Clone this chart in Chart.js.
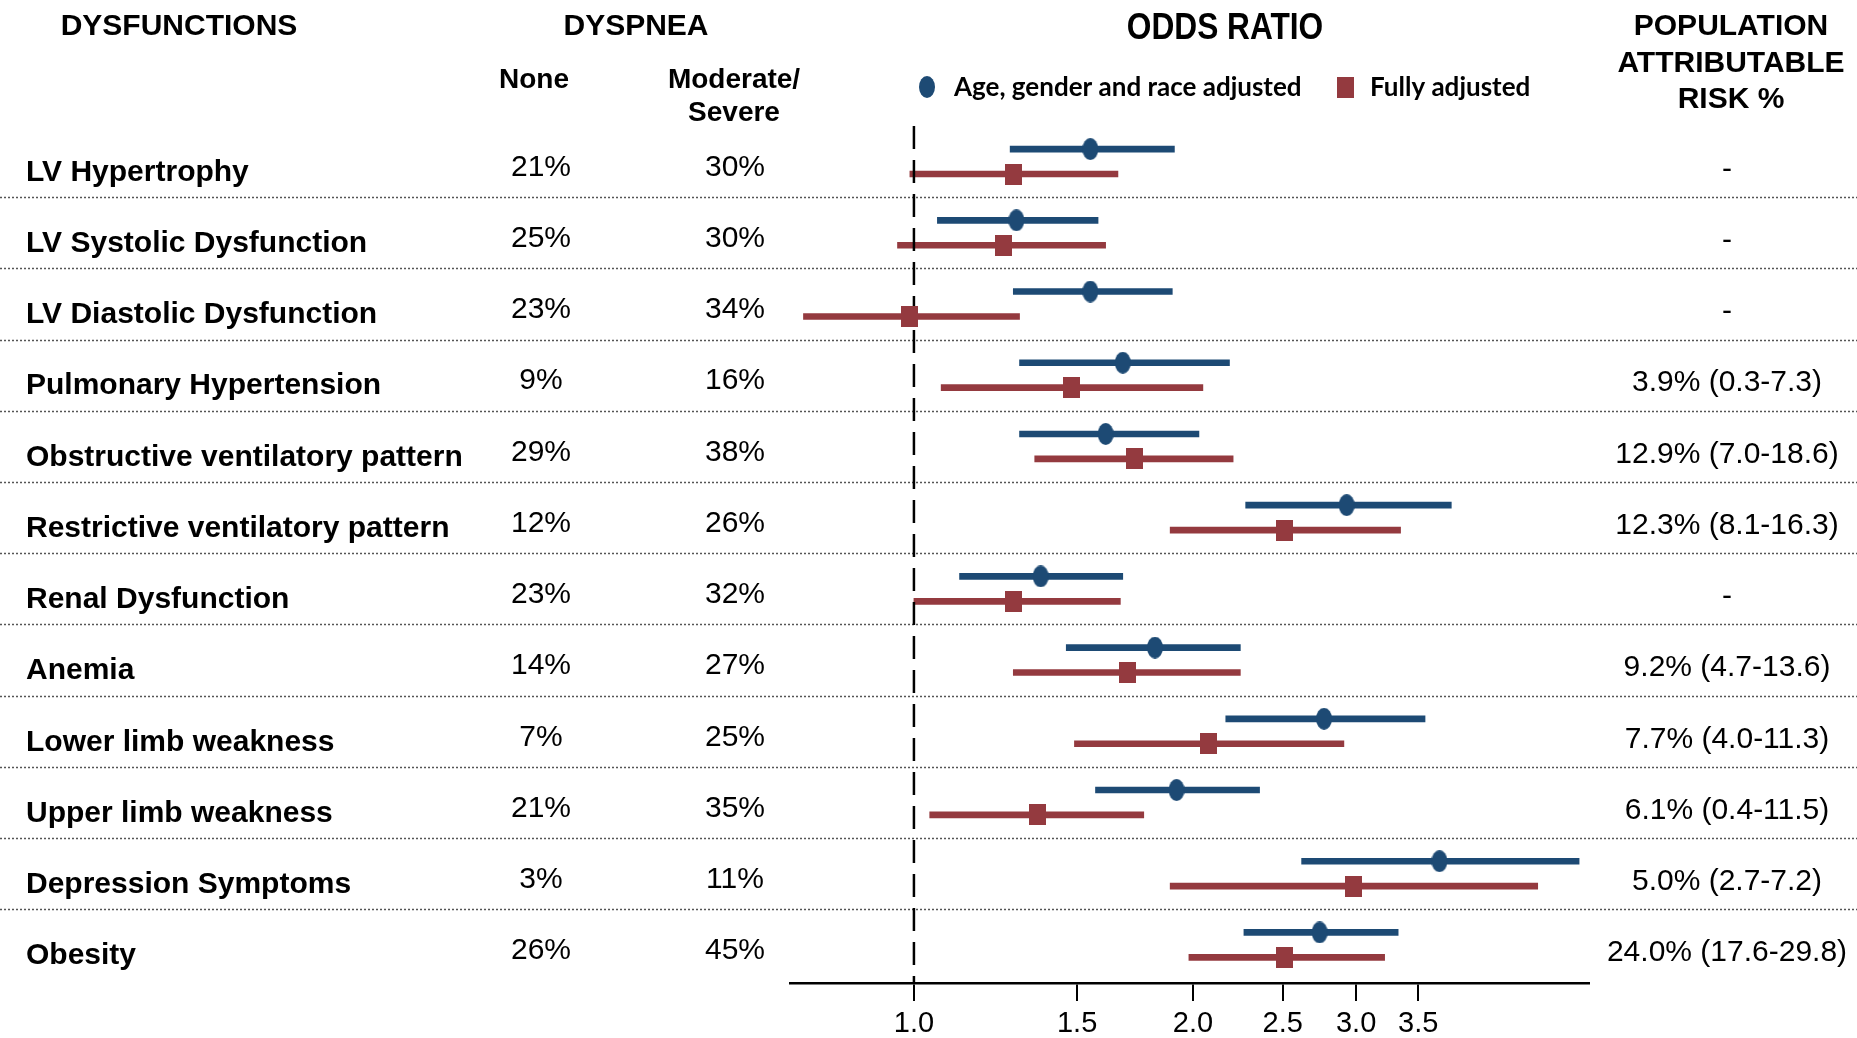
<!DOCTYPE html>
<html>
<head>
<meta charset="utf-8">
<script src="https://cdn.jsdelivr.net/npm/chart.js@4.4.1/dist/chart.umd.min.js"></script>
<style>
  html, body { margin: 0; padding: 0; background: #fff; }
  canvas { display: block; }
</style>
</head>
<body>
<canvas id="chart" width="1857" height="1038"></canvas>
<script>
// rows, top to bottom
const categories = [
  'LV Hypertrophy', 'LV Systolic Dysfunction', 'LV Diastolic Dysfunction',
  'Pulmonary Hypertension', 'Obstructive ventilatory pattern', 'Restrictive ventilatory pattern',
  'Renal Dysfunction', 'Anemia', 'Lower limb weakness', 'Upper limb weakness',
  'Depression Symptoms', 'Obesity'
]
const dyspneaNone = ['21%', '25%', '23%', '9%', '29%', '12%', '23%', '14%', '7%', '21%', '3%', '26%']
const dyspneaModSevere = ['30%', '30%', '34%', '16%', '38%', '26%', '32%', '27%', '25%', '35%', '11%', '45%']
const parText = ['-', '-', '-', '3.9% (0.3-7.3)', '12.9% (7.0-18.6)', '12.3% (8.1-16.3)', '-',
  '9.2% (4.7-13.6)', '7.7% (4.0-11.3)', '6.1% (0.4-11.5)', '5.0% (2.7-7.2)', '24.0% (17.6-29.8)']

// age, gender and race adjusted odds ratios
const ageOR   = [1.55, 1.29, 1.55, 1.68, 1.61, 2.93, 1.37, 1.82, 2.77, 1.92, 3.69, 2.74]
const ageLow  = [1.27, 1.06, 1.28, 1.30, 1.30, 2.28, 1.12, 1.46, 2.17, 1.57, 2.62, 2.27]
const ageHigh = [1.91, 1.58, 1.90, 2.19, 2.03, 3.80, 1.68, 2.25, 3.56, 2.36, 5.22, 3.33]

// fully adjusted odds ratios
const fullOR   = [1.28, 1.25, 0.99, 1.48, 1.73, 2.51, 1.28, 1.70, 2.08, 1.36, 2.98, 2.51]
const fullLow  = [0.99, 0.96, 0.76, 1.07, 1.35, 1.89, 1.00, 1.28, 1.49, 1.04, 1.89, 1.98]
const fullHigh = [1.66, 1.61, 1.30, 2.05, 2.21, 3.35, 1.67, 2.25, 2.91, 1.77, 4.71, 3.22]

const tickValues = [1.0, 1.5, 2.0, 2.5, 3.0, 3.5]

const BLUE = '#1d4a74'
const RED = '#943a3f'
const rowShift = 0.175

function marker(w, h, color, shape) {
  const c = document.createElement('canvas')
  c.width = w
  c.height = h
  const g = c.getContext('2d')
  g.fillStyle = color
  if (shape === 'ellipse') {
    g.beginPath()
    g.ellipse(w / 2, h / 2, w / 2, h / 2, 0, 0, Math.PI * 2)
    g.fill()
  } else {
    g.fillRect(0, 0, w, h)
  }
  return c
}
const blueDot = marker(16, 22, BLUE, 'ellipse')
const redSquare = marker(17, 21, RED, 'rect')

function text(ctx, str, x, y, font, align, sx) {
  ctx.save()
  ctx.font = font
  ctx.fillStyle = '#000'
  ctx.textAlign = align || 'left'
  ctx.textBaseline = 'middle'
  ctx.translate(x, y)
  ctx.scale(sx || 1, 1)
  ctx.fillText(str, 0, 0)
  ctx.restore()
}

const tablePlugin = {
  id: 'table',
  beforeDatasetsDraw(chart) {
    const { ctx, scales: { y } } = chart
    ctx.save()
    ctx.strokeStyle = '#555'
    ctx.lineWidth = 1.5
    ctx.setLineDash([2, 2])
    for (let i = 0; i < categories.length - 1; i++) {
      const py = Math.round(y.getPixelForValue(i + 0.5)) + 0.5
      ctx.beginPath()
      ctx.moveTo(0, py)
      ctx.lineTo(chart.width, py)
      ctx.stroke()
    }
    ctx.restore()
  },
  afterDatasetDraw(chart, args) {
    // reference line at OR = 1, over the CI bars but under the markers
    if (args.index !== 2) return
    const { ctx, chartArea, scales: { x, y } } = chart
    const px = x.getPixelForValue(1)
    ctx.save()
    ctx.strokeStyle = '#000'
    ctx.lineWidth = 2.5
    ctx.setLineDash([23, 11])
    ctx.beginPath()
    ctx.moveTo(px, y.getPixelForValue(-0.5))
    ctx.lineTo(px, chartArea.bottom)
    ctx.stroke()
    ctx.restore()
  },
  afterDraw(chart) {
    const { ctx, scales: { y } } = chart
    const bold = f => 'bold ' + f + 'px "Liberation Sans", Arial, sans-serif'
    const reg = f => f + 'px "Liberation Sans", Arial, sans-serif'

    // headers
    text(ctx, 'DYSFUNCTIONS', 179, 27, bold(30), 'center')
    text(ctx, 'DYSPNEA', 636, 27, bold(30), 'center')
    text(ctx, 'None', 534, 80, bold(28), 'center')
    text(ctx, 'Moderate/', 734, 80, bold(28), 'center')
    text(ctx, 'Severe', 734, 113, bold(28), 'center')
    text(ctx, 'ODDS RATIO', 1225, 29, bold(36), 'center', 0.88)
    text(ctx, 'POPULATION', 1731, 27, bold(30), 'center')
    text(ctx, 'ATTRIBUTABLE', 1731, 64, bold(30), 'center')
    text(ctx, 'RISK %', 1731, 100, bold(30), 'center')

    // legend
    ctx.drawImage(blueDot, 927 - 8, 87 - 11)
    text(ctx, 'Age, gender and race adjusted', 954, 88, 'bold 26px Lato, sans-serif', 'left')
    ctx.drawImage(redSquare, 1345 - 8, 87 - 10)
    text(ctx, 'Fully adjusted', 1370, 88, 'bold 26px Lato, sans-serif', 'left')

    // table rows
    categories.forEach((name, i) => {
      const py = y.getPixelForValue(i)
      text(ctx, name, 26, py + 11, bold(30), 'left')
      text(ctx, dyspneaNone[i], 541, py + 6, reg(30), 'center')
      text(ctx, dyspneaModSevere[i], 735, py + 6, reg(30), 'center')
      text(ctx, parText[i], 1727, py + 8, reg(30), 'center')
    })
  }
}

new Chart(document.getElementById('chart'), {
  type: 'bar',
  data: {
    datasets: [
      {
        type: 'scatter',
        label: 'Age, gender and race adjusted',
        data: categories.map((c, i) => ({ x: ageOR[i], y: i - rowShift })),
        pointStyle: blueDot,
        pointRadius: 8,
        order: 0
      },
      {
        type: 'scatter',
        label: 'Fully adjusted',
        data: categories.map((c, i) => ({ x: fullOR[i], y: i + rowShift })),
        pointStyle: redSquare,
        pointRadius: 8,
        order: 0
      },
      {
        type: 'bar',
        label: 'age CI',
        data: categories.map((c, i) => ({ y: i - rowShift, x: [ageLow[i], ageHigh[i]] })),
        backgroundColor: BLUE,
        barThickness: 6,
        grouped: false,
        borderWidth: 0,
        order: 1
      },
      {
        type: 'bar',
        label: 'full CI',
        data: categories.map((c, i) => ({ y: i + rowShift, x: [fullLow[i], fullHigh[i]] })),
        backgroundColor: RED,
        barThickness: 6,
        grouped: false,
        borderWidth: 0,
        order: 1
      }
    ]
  },
  options: {
    indexAxis: 'y',
    responsive: false,
    animation: false,
    events: [],
    layout: {
      padding: { left: 790, right: 268, top: 69, bottom: 0 }
    },
    scales: {
      x: {
        type: 'logarithmic',
        bounds: 'data',
        min: 0.735,
        max: 5.35,
        beginAtZero: false,
        offset: false,
        afterBuildTicks: scale => {
          scale.ticks = tickValues.map(v => ({ value: v }))
        },
        afterFit: scale => {
          scale.height = 55
        },
        ticks: {
          autoSkip: false,
          maxRotation: 0,
          padding: 6,
          color: '#000',
          font: { family: '"Liberation Sans", Arial, sans-serif', size: 29 },
          callback: v => Number(v).toFixed(1)
        },
        grid: {
          offset: false,
          drawOnChartArea: false,
          drawTicks: true,
          tickLength: 18,
          color: '#000',
          lineWidth: 2
        },
        border: { display: true, color: '#000', width: 2.5 }
      },
      y: {
        type: 'linear',
        min: -1.3,
        max: 11.535,
        reverse: true,
        offset: false,
        display: false,
        grid: { offset: false }
      }
    },
    plugins: {
      legend: { display: false },
      title: { display: false },
      tooltip: { enabled: false }
    }
  },
  plugins: [tablePlugin]
})
</script>
</body>
</html>
